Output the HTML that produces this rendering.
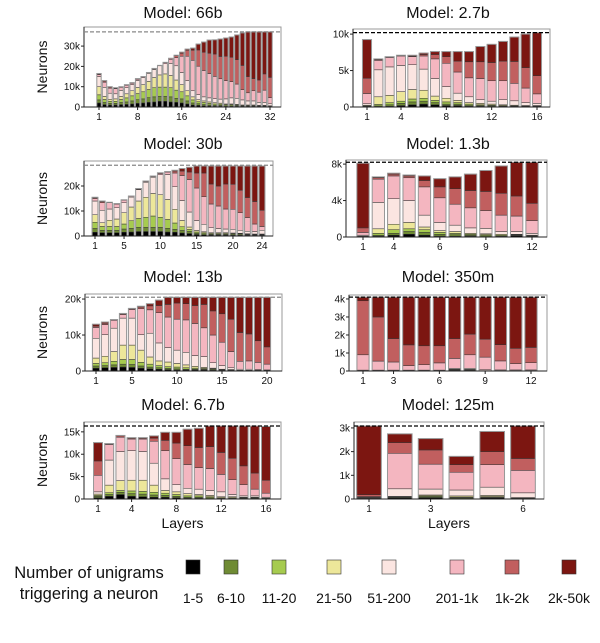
<!DOCTYPE html>
<html><head><meta charset="utf-8">
<style>
body{margin:0;background:#fff;}
svg text{font-family:"Liberation Sans","DejaVu Sans",sans-serif;fill:#111;}
</style></head>
<body>
<svg id="chart" width="600" height="638" viewBox="0 0 600 638" xmlns="http://www.w3.org/2000/svg"></svg>
<script>
const categories = ["1-5","6-10","11-20","21-50","51-200","201-1k","1k-2k","2k-50k"];
const colors = ["#000000","#6f8b34","#a6cb4f","#ede79a","#fbe5e1","#f4b6c0","#c15f5f","#7c1611"];

const data66b = [
[2,1.5,2.5,4,5,1,0.3,0.2],[1.2,1,1.5,1.5,4.5,2.5,0.5,0.3],[1,0.8,1,1,3,2.5,0.5,0.2],[1,0.8,1,1.2,2.5,2.5,0.3,0.2],
[1.2,1,1.5,1.5,3,1.5,0.2,0.1],[1.3,1.2,2,2,3,1.2,0.2,0.1],[1.5,1.5,2.5,2.5,3,0.7,0.2,0.1],[1.8,1.8,3,3,3.5,0.6,0.2,0.1],
[2,2,3.5,3.5,3.5,0.4,0.1,0],[2.3,2.3,4,4,4,0.3,0.1,0],[2.5,2.5,4.5,5,4,0.3,0.2,0],[2.8,2.5,4.5,6,4.5,0.2,0,0],
[2.8,2.5,4.5,6.5,5,0.5,0.2,0],[2.5,2.5,4.5,6,6,2,0.5,0],[2.3,2,4,5,7,4,1,0.2],[2,2,3.5,3.5,6,8,1.5,0.5],
[1.5,1.5,2.5,2.5,5,12,3,0.5],[1,1,1.5,1.5,3,15,5,1],[0.8,0.8,1,1,2.5,14,8,2.9],[0.6,0.6,1,0.8,2,13,9,5],
[0.5,0.5,0.8,0.7,2,12,10,6.5],[0.4,0.4,0.7,0.6,2,11,11,7],[0.4,0.4,0.6,0.5,2,10,11,8.6],[0.3,0.3,0.5,0.4,2.5,9,12,9],
[0.3,0.3,0.5,0.4,3,8,12,10],[0.3,0.3,0.4,0.3,3,7,12,12.2],[0.2,0.2,0.3,0.3,2.5,5,12,16],[0.2,0.2,0.3,0.3,2,4,8,22],
[0.2,0.2,0.3,0.3,2,5,6,23],[0.2,0.2,0.2,0.2,1.5,5,6,23.7],[0.2,0.2,0.2,0.2,1.5,6,8,20.7],[0.1,0.1,0.2,0.2,1,3,10,22.4]];
const data2_7b = [
[0.05,0.05,0.05,0.1,0.2,1.4,2.1,5.3],[0.05,0.1,0.2,1.05,3.7,1.3,0.1,0.1],[0.1,0.2,0.3,1,3.9,1.3,0.05,0.05],[0.2,0.3,0.3,1.3,3.6,1.3,0.05,0.05],
[0.3,0.4,0.4,1.3,3.4,1.1,0.1,0.1],[0.4,0.4,0.4,1.1,2.9,1.8,0.2,0.2],[0.3,0.3,0.3,0.6,2.4,2.7,0.6,0.4],[0.2,0.2,0.3,0.5,1.6,3.2,0.9,0.7],
[0.2,0.2,0.2,0.3,1.0,2.9,1.5,1.3],[0.1,0.1,0.2,0.2,0.8,2.6,2.2,1.4],[0.1,0.1,0.1,0.2,0.5,2.9,2.3,2.1],[0.05,0.1,0.1,0.15,0.4,2.8,2.5,2.5],
[0.05,0.05,0.1,0.1,0.7,2.6,2.7,2.7],[0.05,0.05,0.05,0.1,0.6,2.4,3.0,3.35],[0.05,0.05,0.05,0.05,0.4,2.0,2.8,4.6],[0.05,0.05,0.05,0.05,0.3,1.3,2.5,5.9]];
const data30b = [
[1.5,1.5,2.5,3,5.5,1,0.3,0.2],[1.3,1,1.5,1.5,5,3,0.5,0.2],[1.3,1,1.5,2.5,4.5,2.5,0.2,0],[1.3,1,1.5,3,4.5,1.5,0.2,0],
[1.5,1.3,2,4.5,4,1,0.2,0],[1.6,1.5,3,5.5,4,0.3,0.1,0],[1.8,1.7,3.5,7,4.5,0.3,0.2,0],[1.8,1.7,4,8,6,0.3,0.2,0],
[1.8,1.7,4.5,9,6.5,0.3,0.2,0],[1.8,1.7,4,9,8,0.5,0.3,0],[1.6,1.5,3.5,8,10,1,0.2,0],[1.5,1.2,2.5,5.5,9,5.5,0.8,0.3],
[1.2,1,1.5,2.5,8,10,1.8,1],[1,0.8,0.8,1,6,13,3,1.9],[0.6,0.5,0.5,0.6,4,13,6,2.8],[0.5,0.4,0.4,0.4,3,11,9.5,2.8],
[0.4,0.3,0.3,0.3,2,9.5,8,7.2],[0.4,0.3,0.3,0.3,1.7,9,8,8],[0.4,0.3,0.3,0.3,1.5,8,10,7.2],[0.3,0.3,0.3,0.3,1.5,8,10,7.3],
[0.3,0.3,0.3,0.2,1.2,7,9,9.7],[0.3,0.2,0.2,0.2,1,5.5,8,12.6],[0.2,0.2,0.2,0.2,1,3,9,14.2],[0.2,0.2,0.2,0.2,1.5,1.5,6.5,17.7]];
const data1_3b = [
[0.02,0.02,0.02,0.04,0.1,0.3,0.5,7.1],[0.1,0.1,0.2,0.5,2.9,2.55,0.15,0.1],[0.2,0.2,0.4,0.6,2.8,2.5,0.2,0.1],[0.3,0.3,0.3,0.7,2.4,2.5,0.2,0.1],
[0.2,0.3,0.3,0.3,1.3,3.1,0.7,0.5],[0.1,0.2,0.2,0.2,0.9,2.7,1.2,0.9],[0.1,0.15,0.15,0.2,0.7,2.3,1.7,1.3],[0.1,0.1,0.1,0.1,0.6,2.2,1.9,1.8],
[0.05,0.1,0.1,0.1,0.6,1.95,2.1,2.3],[0.05,0.05,0.1,0.1,0.3,1.8,2.4,3.0],[0.15,0.05,0.05,0.05,0.3,1.7,2.2,3.7],[0.05,0.05,0.05,0.05,0.2,1.4,1.9,4.5]];
const data13b = [
[0.8,0.6,0.7,1.5,5.5,3,0.4,0.5],[0.9,0.6,0.8,1.8,6,2.8,0.4,0.3],[1,0.7,1,2.7,6.5,2.2,0.1,0.1],[1.1,0.8,1.3,4,7.5,1,0.2,0.1],
[1,0.8,1.4,4,7.5,2.4,0.2,0.1],[0.8,0.6,1,3.4,4.3,7.2,0.5,0.2],[0.6,0.5,0.8,2,6.6,6.5,1.1,0.6],[0.5,0.4,0.6,1.3,5,8.4,2,1.5],
[0.4,0.3,0.5,1.3,4,8.5,3.5,2],[0.3,0.3,0.5,1,3.7,8.6,4.5,1.6],[0.3,0.2,0.4,0.8,3.5,9,4.5,1.8],[0.3,0.2,0.3,0.5,3,8.9,5,2.3],
[0.3,0.2,0.2,0.3,3,8,6.5,2],[0.2,0.2,0.2,0.2,1.5,7.7,6.7,3.8],[0.2,0.1,0.1,0.1,1,6.5,7.9,4.6],[0.1,0.1,0.1,0.1,0.5,4.5,9,6.1],
[0.05,0.05,0.05,0.05,0.3,2.2,8,9.8],[0.05,0.05,0.05,0.05,0.3,2.3,7.5,10.2],[0.05,0.05,0.05,0.05,0.2,2,6,12.1],[0.05,0.05,0.05,0.05,0.1,1.6,4.8,13.8]];
const data350m = [
[0.01,0,0,0,0.04,0.85,3.0,0.2],[0.01,0,0,0,0.04,0.5,2.45,1.1],[0.01,0,0,0,0.04,0.45,1.3,2.3],[0.01,0,0,0,0.04,0.25,1.15,2.65],
[0.01,0,0,0,0.04,0.3,1.05,2.7],[0.01,0,0,0,0.04,0.4,0.95,2.7],[0.05,0.03,0.02,0,0.05,0.55,1.1,2.3],[0.04,0.03,0.02,0,0.06,0.75,1.15,2.05],
[0.02,0,0,0,0.05,0.7,1.0,2.33],[0.02,0,0,0,0.04,0.5,0.9,2.64],[0.02,0,0,0,0.04,0.35,0.85,2.84],[0.02,0,0,0,0.04,0.4,0.85,2.79]];
const data6_7b = [
[0.3,0.3,0.2,0.3,0.5,3.7,3.2,4.1],[0.6,0.4,0.4,1.7,5.6,3.5,0.1,0.1],[1,0.5,0.4,2.2,6.5,3.2,0.3,0.1],[0.6,0.6,0.6,2.4,6.6,2.6,0.2,0.1],
[0.5,0.6,0.6,2.5,6.4,2.8,0.2,0.1],[0.4,0.5,0.6,1.6,4.9,4.9,0.7,0.5],[0.4,0.4,0.5,0.6,2.6,6.3,2.3,1.8],[0.3,0.3,0.4,0.6,1.6,5.8,3.5,2.4],
[0.2,0.2,0.3,0.5,1.2,5.3,4.2,3.7],[0.2,0.2,0.3,0.3,1.2,4.8,4.5,4.3],[0.1,0.2,0.2,0.3,1.1,4.9,4.9,4.6],[0.1,0.1,0.1,0.2,1.1,3.9,4.9,5.9],
[0.1,0.1,0.1,0.2,0.5,3.3,4.8,7.2],[0.1,0.1,0.1,0.1,0.3,2.5,4.2,8.9],[0.1,0.1,0.1,0.1,0.3,1.5,3.6,10.5],[0.05,0.05,0.05,0.05,0.2,0.9,2.9,12]];
const data125m = [
[0.03,0.01,0.01,0.01,0.02,0.02,0.08,2.9],[0.05,0.03,0.01,0.02,0.32,1.5,0.45,0.37],[0.06,0.03,0.04,0.04,0.25,1.05,0.6,0.48],
[0.02,0.03,0.03,0.05,0.25,0.75,0.32,0.35],[0.05,0.03,0.02,0.05,0.35,0.95,0.55,0.85],[0.03,0.01,0.01,0.01,0.2,0.95,0.5,1.37]];

const xticks66b=[1,8,16,24,32], yticks66b=[0,10,20,30];
const xticks2_7b=[1,4,8,12,16], yticks2_7b=[0,5,10];
const xticks30b=[1,5,10,15,20,24], yticks30b=[0,10,20];
const xticks1_3b=[1,3,6,9,12], xlabels1_3b=["1","4","6","9","12"], yticks1_3b=[0,4,8];
const xticks13b=[1,5,10,15,20], yticks13b=[0,10,20];
const xticks350m=[1,3,6,9,12], yticks350m=[0,1,2,3,4];
const xticks6_7b=[1,4,8,12,16], yticks6_7b=[0,5,10,15];
const xticks125m=[1,3,6], yticks125m=[0,1,2,3];
const maxLine = {"66b":37,"2.7b":10.2,"30b":28.3,"1.3b":8.2,"13b":20.5,"350m":4.1,"6.7b":16.3,"125m":3.08};

const NS="http://www.w3.org/2000/svg";
const svg=document.getElementById('chart');
function mk(tag,attrs,parent){const e=document.createElementNS(NS,tag);for(const k in attrs)e.setAttribute(k,attrs[k]);(parent||svg).appendChild(e);return e;}

const panels=[
 {name:"66b",data:data66b,xt:xticks66b,yt:yticks66b,bx0:84,bx1:281,by0:27,by1:107,l1:99,lN:270,ymax:39.4,dash:"#888",title:[183,12],left:true},
 {name:"2.7b",data:data2_7b,xt:xticks2_7b,yt:yticks2_7b,bx0:353,bx1:550,by0:29,by1:107,l1:367,lN:537,ymax:10.7,dash:"#000",title:[448,12]},
 {name:"30b",data:data30b,xt:xticks30b,yt:yticks30b,bx0:84,bx1:273,by0:161,by1:236,l1:95,lN:262,ymax:30,dash:"#888",title:[183,143],left:true},
 {name:"1.3b",data:data1_3b,xt:xticks1_3b,xl:xlabels1_3b,yt:yticks1_3b,bx0:346,bx1:547,by0:160,by1:237,l1:363,lN:532,ymax:8.45,dash:"#000",title:[448,143]},
 {name:"13b",data:data13b,xt:xticks13b,yt:yticks13b,bx0:85,bx1:282,by0:294,by1:371,l1:96,lN:267,ymax:21.4,dash:"#888",title:[183,276],left:true},
 {name:"350m",data:data350m,xt:xticks350m,yt:yticks350m,bx0:349,bx1:547,by0:295,by1:371,l1:363,lN:531,ymax:4.22,dash:"#000",title:[448,276]},
 {name:"6.7b",data:data6_7b,xt:xticks6_7b,yt:yticks6_7b,bx0:84,bx1:281,by0:422,by1:499,l1:98,lN:266,ymax:17.2,dash:"#000",title:[183,404],left:true,bottom:true},
 {name:"125m",data:data125m,xt:xticks125m,yt:yticks125m,bx0:354,bx1:544,by0:422,by1:499,l1:369,lN:523,ymax:3.25,dash:"#000",title:[448,404],bottom:true}
];

panels.forEach(p=>{
  const g=mk('g',{});
  
  
  const n=p.data.length;
  const step=n>1?(p.lN-p.l1)/(n-1):30;
  const xS=l=>p.l1+(l-1)*step;
  const yS=v=>p.by1-(v/p.ymax)*(p.by1-p.by0);
  const bw=step*0.8;
  p.data.forEach((row,i)=>{
    const bar=mk('g',{},g);
    
    
    let cum=0;
    row.forEach((v,c)=>{
      if(v<=0)return;
      const r=mk('rect',{x:xS(i+1)-bw/2,y:yS(cum+v),width:bw,height:Math.max(0,yS(cum)-yS(cum+v)),fill:colors[c],stroke:'#333','stroke-width':0.5},bar);
      
      
      cum+=v;
    });
    const o=mk('rect',{x:xS(i+1)-bw/2,y:yS(cum),width:bw,height:yS(0)-yS(cum),fill:'none',stroke:'#999','stroke-width':1},bar);
    
    
  });
  const ax=mk('rect',{x:p.bx0,y:p.by0,width:p.bx1-p.bx0,height:p.by1-p.by0,fill:'none',stroke:'#999','stroke-width':1},g);
  
  
  mk('line',{x1:p.bx0,x2:p.bx0,y1:p.by0,y2:p.by1,stroke:'#222','stroke-width':1},g);
  mk('line',{x1:p.bx0,x2:p.bx1,y1:p.by1,y2:p.by1,stroke:'#222','stroke-width':1},g);
  const dl=mk('line',{x1:p.bx0,x2:p.bx1,y1:yS(maxLine[p.name]),y2:yS(maxLine[p.name]),stroke:p.dash,'stroke-width':1.2,'stroke-dasharray':'4,2'},g);
  
  
  p.xt.forEach((t,k)=>{
    mk('line',{x1:xS(t),x2:xS(t),y1:p.by1,y2:p.by1+3,stroke:'#222'},g);
    const tx=mk('text',{x:xS(t),y:p.by1+13,'font-size':10,'text-anchor':'middle'},g);
    tx.textContent=p.xl?p.xl[k]:t;
    
    
  });
  p.yt.forEach(t=>{
    mk('line',{x1:p.bx0-3,x2:p.bx0,y1:yS(t),y2:yS(t),stroke:'#222'},g);
    const ty=mk('text',{x:p.bx0-4,y:yS(t)+3.5,'font-size':10,'text-anchor':'end'},g);
    ty.textContent=t===0?'0':t+'k';
    
    
  });
  const tt=mk('text',{x:p.title[0],y:p.title[1]+6,'font-size':16,'text-anchor':'middle'},g);
  tt.textContent='Model: '+p.name;
  
  
  if(p.left){
    const cy=(p.by0+p.by1)/2;
    const yl=mk('text',{x:0,y:0,'font-size':14,'text-anchor':'middle',transform:`translate(47,${cy}) rotate(-90)`},g);
    yl.textContent='Neurons';
    
    
  }
  if(p.bottom){
    const xl=mk('text',{x:(p.bx0+p.bx1)/2,y:528,'font-size':14,'text-anchor':'middle'},g);
    xl.textContent='Layers';
    
    
  }
});

// legend
const lg=mk('g',{});


const l1=mk('text',{x:89,y:578,'font-size':16.5,'text-anchor':'middle'},lg);
l1.textContent='Number of unigrams';


const l2=mk('text',{x:89,y:599,'font-size':16.5,'text-anchor':'middle'},lg);
l2.textContent='triggering a neuron';


const swX=[193,231,279,334,389,457,512,569];
categories.forEach((c,i)=>{
  const e=mk('g',{},lg);
  
  
  mk('rect',{x:swX[i]-7,y:560,width:14,height:14,fill:colors[i],stroke:'#333','stroke-width':0.6},e);
  const t=mk('text',{x:swX[i],y:603,'font-size':14,'text-anchor':'middle'},e);
  t.textContent=c;
});
</script>
</body></html>
